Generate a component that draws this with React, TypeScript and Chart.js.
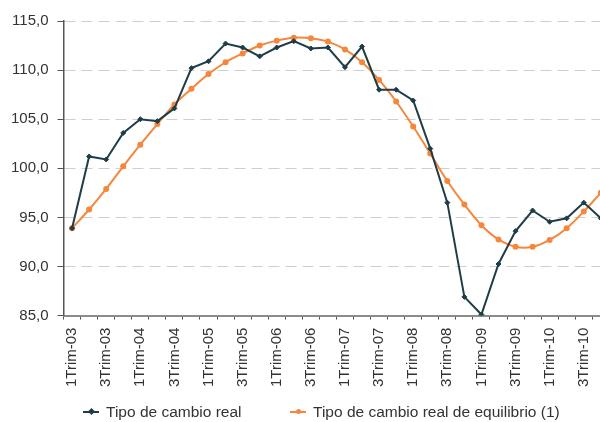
import React, { useEffect, useRef } from "react";
import { Chart, registerables } from "chart.js";

Chart.register(...registerables);

const categories = [
  "1Trim-03", "2Trim-03", "3Trim-03", "4Trim-03",
  "1Trim-04", "2Trim-04", "3Trim-04", "4Trim-04",
  "1Trim-05", "2Trim-05", "3Trim-05", "4Trim-05",
  "1Trim-06", "2Trim-06", "3Trim-06", "4Trim-06",
  "1Trim-07", "2Trim-07", "3Trim-07", "4Trim-07",
  "1Trim-08", "2Trim-08", "3Trim-08", "4Trim-08",
  "1Trim-09", "2Trim-09", "3Trim-09", "4Trim-09",
  "1Trim-10", "2Trim-10", "3Trim-10", "4Trim-10",
];

const tipoCambioReal = [
  93.9, 101.2, 100.9, 103.6,
  105.0, 104.8, 106.1, 110.2,
  110.9, 112.7, 112.3, 111.4,
  112.3, 112.95, 112.2, 112.3,
  110.3, 112.4, 108.0, 108.0,
  106.9, 102.0, 96.5, 86.9,
  85.1, 90.25, 93.6, 95.7,
  94.55, 94.9, 96.5, 94.9,
];

const tipoCambioEquilibrio = [
  93.9, 95.8, 97.9, 100.2,
  102.4, 104.5, 106.5, 108.1,
  109.6, 110.8, 111.7, 112.5,
  113.0, 113.3, 113.25, 112.9,
  112.1, 110.8, 109.0, 106.8,
  104.25, 101.5, 98.7, 96.3,
  94.2, 92.75, 92.0, 92.0,
  92.7, 93.9, 95.6, 97.5,
];

const seriesNames = ["Tipo de cambio real", "Tipo de cambio real de equilibrio (1)"];
const DARK = "#1e3d48";
const ORANGE = "#f5873c";
const FONT = "'Liberation Sans', Arial, sans-serif";

export default function App() {
  const ref = useRef<HTMLCanvasElement | null>(null);

  useEffect(() => {
    if (!ref.current) return;
    const chart = new Chart(ref.current, {
      type: "line",
      data: {
        labels: categories,
        datasets: [
          {
            label: seriesNames[0],
            data: tipoCambioReal,
            borderColor: DARK,
            backgroundColor: DARK,
            borderWidth: 2,
            pointStyle: "rectRot",
            pointRadius: 2.5,
            pointBorderWidth: 1,
            tension: 0,
          },
          {
            label: seriesNames[1],
            data: tipoCambioEquilibrio,
            borderColor: ORANGE,
            backgroundColor: ORANGE,
            borderWidth: 2,
            pointStyle: "circle",
            pointRadius: 3,
            pointBorderWidth: 0,
            tension: 0.35,
          },
        ],
      },
      options: {
        responsive: false,
        animation: false,
        layout: { padding: { left: 2, right: 11, top: 21, bottom: 27 } },
        plugins: {
          legend: { display: false },
          tooltip: { enabled: false },
        },
        scales: {
          x: {
            offset: true,
            grid: {
              offset: true,
              drawOnChartArea: false,
              drawTicks: true,
              tickLength: 4,
              tickColor: "#555",
              tickWidth: 1,
            },
            border: { display: true, color: "#8c8c8c", width: 2 },
            ticks: {
              autoSkip: false,
              minRotation: 90,
              maxRotation: 90,
              padding: 8,
              color: "#333",
              font: { family: FONT, size: 15 },
              callback: (_v: any, i: number) => (i % 2 === 0 ? categories[i] : ""),
            },
          },
          y: {
            min: 85,
            max: 115,
            grid: {
              color: "#cfcfcf",
              lineWidth: 1,
              tickLength: 6,
              tickColor: "#555",
              tickWidth: 1,
            },
            border: { display: true, color: "#555", width: 1.5, dash: [11, 6] },
            ticks: {
              stepSize: 5,
              padding: 9,
              color: "#333",
              font: { family: FONT, size: 15 },
              callback: (v: any) => Number(v).toFixed(1).replace(".", ","),
            },
          },
        },
      },
    });
    return () => chart.destroy();
  }, []);

  const legendMarker = (color: string, round: boolean) => (
    <span style={{ position: "relative", display: "inline-block", width: 16, height: 10, marginRight: 7 }}>
      <span style={{ position: "absolute", left: 0, top: 4, width: 16, height: 2, background: color }} />
      <span
        style={{
          position: "absolute",
          left: 5.5,
          top: 2,
          width: 5,
          height: 5,
          background: color,
          borderRadius: round ? "50%" : 0,
          transform: round ? "none" : "rotate(45deg)",
        }}
      />
    </span>
  );

  return (
    <div style={{ position: "fixed", left: 0, top: 0, width: 600, height: 422, overflow: "hidden", background: "#fff" }}>
      <canvas ref={ref} width={627} height={422} style={{ position: "absolute", left: 0, top: 0, width: 627, height: 422 }} />
      <div style={{ position: "absolute", left: 83, top: 402, display: "flex", alignItems: "center", fontFamily: FONT, fontSize: 15.5, color: "#333", lineHeight: "20px", whiteSpace: "nowrap" }}>
        {legendMarker(DARK, false)}
        <span>{seriesNames[0]}</span>
      </div>
      <div style={{ position: "absolute", left: 290, top: 402, display: "flex", alignItems: "center", fontFamily: FONT, fontSize: 15.5, color: "#333", lineHeight: "20px", whiteSpace: "nowrap" }}>
        {legendMarker(ORANGE, true)}
        <span>{seriesNames[1]}</span>
      </div>
    </div>
  );
}
